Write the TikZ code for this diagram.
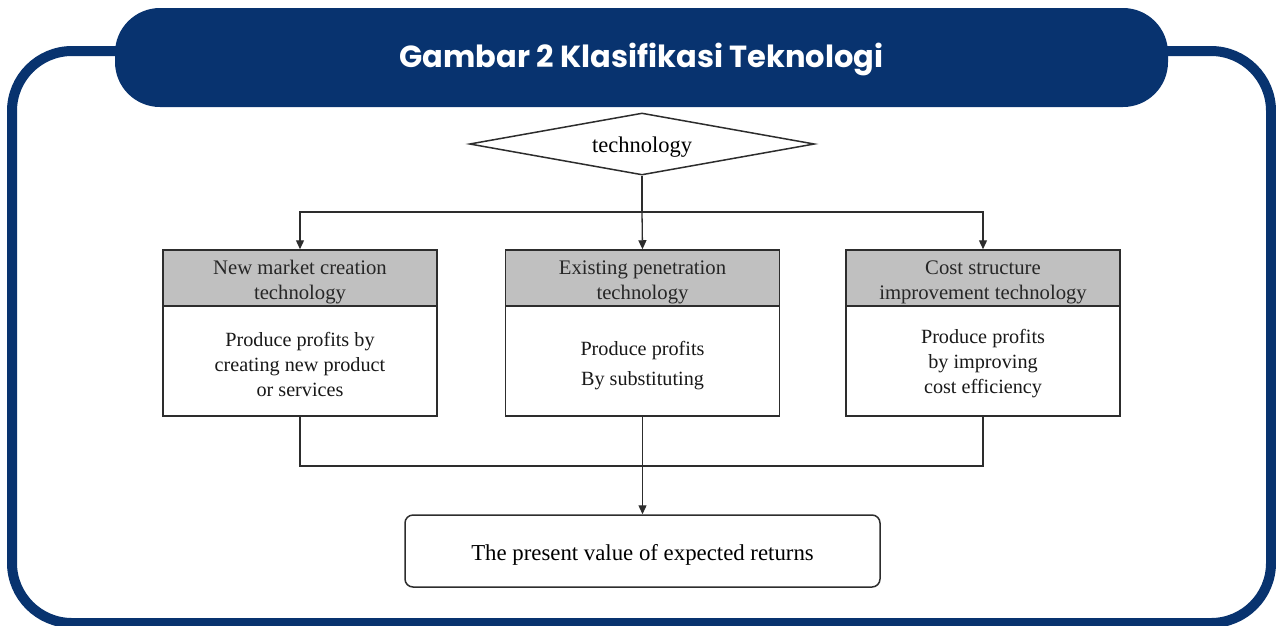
\documentclass[tikz,border=0pt]{standalone}
\usepackage{fontspec}
\setmainfont{Liberation Serif}
\newfontfamily\titlefont{Poppins}
\usetikzlibrary{shapes.geometric,arrows.meta}
\definecolor{navy}{RGB}{8,51,111}
\definecolor{ln}{RGB}{45,45,45}
\definecolor{hdr}{RGB}{192,192,192}
\begin{document}
\begin{tikzpicture}[x=1pt,y=-1pt,
  hdrbox/.style={draw=ln, line width=1.5pt, fill=hdr, minimum width=274pt, minimum height=56pt, inner sep=0pt},
  bodybox/.style={draw=ln, line width=1.5pt, fill=white, minimum width=274pt, minimum height=110pt, inner sep=0pt},
  hdrtext/.style={inner sep=0pt, align=center, font=\fontsize{20.7}{25}\selectfont, text=black!85},
  bodytext/.style={inner sep=0pt, align=center, font=\fontsize{20.2}{25}\selectfont, text=black!90},
  conn/.style={draw=ln, line width=1.3pt},
  arr/.style={conn, -{Triangle[length=9pt,width=8pt]}}
]
\useasboundingbox (0,0) rectangle (1276,625);
\draw[navy, line width=10pt, rounded corners=60pt] (12,51) rectangle (1271,623);
\node[fill=navy, rounded corners=45pt, minimum width=1053pt, minimum height=99pt, inner sep=0pt] (title) at (641.5,57.5) {};
\node[text=white, inner sep=0pt, font=\titlefont\bfseries\fontsize{30.5}{34}\selectfont] (titletext) at ([yshift=-1.5pt]title.center) {Gambar 2 Klasifikasi Teknologi};

\node[draw=ln, line width=1.5pt, diamond, minimum width=345pt, minimum height=62pt, shape aspect=5.56, inner sep=0pt] (dia) at (642,144) {};
\node[inner sep=0pt, font=\fontsize{22.5}{26}\selectfont] (diatext) at ([yshift=-3pt]dia.center) {technology};

\node[hdrbox] (hL) at (300,278) {};
\node[bodybox] (bL) at (300,361) {};
\node[hdrbox] (hM) at (642.5,278) {};
\node[bodybox] (bM) at (642.5,361) {};
\node[hdrbox] (hR) at (983,278) {};
\node[bodybox] (bR) at (983,361) {};

\node[hdrtext] (hLt) at ([yshift=-4pt]hL.center) {New market creation\\technology};
\node[bodytext] (bLt) at ([yshift=-3pt]bL.center) {Produce profits by\\creating new product\\or services};
\node[hdrtext] (hMt) at ([yshift=-4pt]hM.center) {Existing penetration\\technology};
\node[bodytext] (bMt) at ([yshift=-4.5pt]bM.center) {Produce profits\\[5pt]By substituting};
\node[hdrtext] (hRt) at ([yshift=-4pt]hR.center) {Cost structure\\improvement technology};
\node[bodytext] (bRt) at ([yshift=-3pt]bR.center) {Produce profits\\by improving\\cost efficiency};

\node[draw=ln, line width=1.5pt, rounded corners=8pt, minimum width=475pt, minimum height=72pt, inner sep=0pt] (res) at (642.5,551) {};
\node[inner sep=0pt, font=\fontsize{22.8}{26}\selectfont] (restext) at ([yshift=-3.5pt]res.center) {The present value of expected returns};

\coordinate (jt) at (642,212);
\coordinate (jb) at (642,466);
\draw[conn] (dia.south) -- (jt);
\draw[arr] (jt) -| (hL.north);
\draw[arr] (jt) -| (hR.north);
\draw[arr] (jt) -- (hM.north);
\draw[conn] (bL.south) |- (jb);
\draw[conn] (bR.south) |- (jb);
\draw[arr] (bM.south) -- (res.north);
\end{tikzpicture}
\end{document}
